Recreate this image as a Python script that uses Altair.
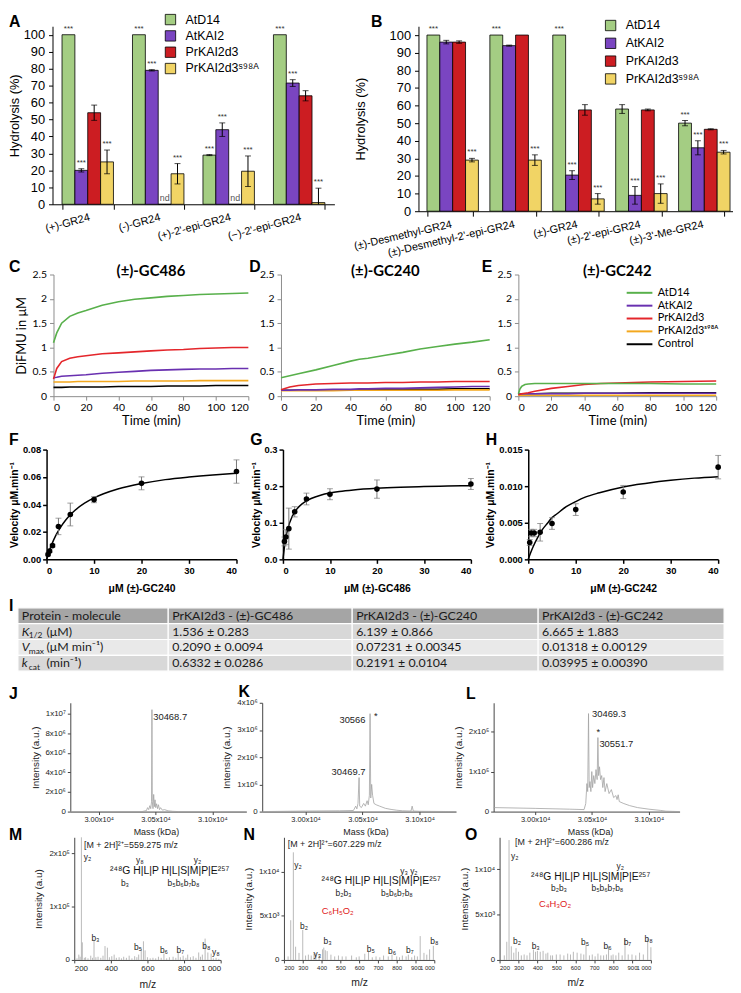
import altair as alt
import pandas as pd

SANS = "Liberation Sans, Arial, sans-serif"
CAL = "Lato, Open Sans, sans-serif"
GP = "Liberation Sans Narrow, Liberation Sans, Arial, sans-serif"

# ---------------- A / B : hydrolysis (%) ----------------
proteins = ["AtD14", "AtKAI2", "PrKAI2d3", "PrKAI2d3ˢ⁹⁸ᴬ"]
bar_colors = ["#a4cd83", "#7a45c1", "#cc1d22", "#f1d465"]

groups_a = ["(+)-GR24", "(-)-GR24", "(+)-2'-epi-GR24", "(−)-2'-epi-GR24"]
a_atd14 = [100, 100, 29, 100]
a_atkai2 = [20, 79, 44, 71.5]
a_prkai2d3 = [54, 0, 0, 64]
a_s98a = [25, 18, 19.5, 1]
a_atd14_err = [0, 0, 0.3, 0]
a_atkai2_err = [1, 0.4, 4, 2]
a_prkai2d3_err = [4.5, 0, 0, 3]
a_s98a_err = [7, 6, 9, 8.5]
a_atd14_sig = [1, 1, 1, 1]
a_atkai2_sig = [1, 1, 1, 1]
a_prkai2d3_sig = [0, 0, 0, 0]
a_s98a_sig = [1, 1, 1, 1]
a_prkai2d3_nd = [0, 1, 1, 0]

groups_b = ["(±)-Desmethyl-GR24", "(±)-Desmethyl-2'-epi-GR24", "(±)-GR24",
            "(±)-2'-epi-GR24", "(±)-3'-Me-GR24"]
b_atd14 = [100, 100, 100, 58, 50]
b_atkai2 = [96, 94, 20.5, 9, 36]
b_prkai2d3 = [96, 100, 57.5, 57.5, 46.5]
b_s98a = [29, 29, 7, 10, 33.5]
b_atd14_err = [0, 0, 0, 2.5, 1.5]
b_atkai2_err = [1, 0.3, 2.5, 5, 4]
b_prkai2d3_err = [0.7, 0, 3, 0.5, 0.3]
b_s98a_err = [1, 3, 3, 5.5, 1]
b_atd14_sig = [1, 1, 1, 0, 1]
b_atkai2_sig = [0, 0, 1, 1, 1]
b_prkai2d3_sig = [0, 0, 0, 0, 0]
b_s98a_sig = [1, 1, 1, 1, 1]
b_none = [0, 0, 0, 0, 0]

# ---------------- C / D / E : DiFMU time courses ----------------
line_names = ["AtD14", "AtKAI2", "PrKAI2d3", "PrKAI2d3ˢ⁹⁸ᴬ", "Control"]
line_colors = ["#58b04b", "#6930b0", "#e4262b", "#f3a81e", "#000000"]

c_time = [0, 2, 5, 10, 15, 20, 30, 40, 50, 60, 70, 80, 90, 100, 110, 120]
c_atd14 = [1.10, 1.30, 1.50, 1.64, 1.71, 1.76, 1.87, 1.94, 1.99, 2.02, 2.05, 2.07, 2.09, 2.10, 2.11, 2.12]
c_atkai2 = [0.38, 0.39, 0.41, 0.42, 0.43, 0.44, 0.47, 0.49, 0.51, 0.53, 0.54, 0.55, 0.56, 0.56, 0.57, 0.57]
c_prkai2d3 = [0.35, 0.57, 0.71, 0.78, 0.81, 0.83, 0.87, 0.89, 0.91, 0.93, 0.95, 0.96, 0.98, 0.99, 1.00, 1.00]
c_s98a = [0.29, 0.29, 0.29, 0.29, 0.30, 0.30, 0.30, 0.30, 0.31, 0.31, 0.31, 0.31, 0.32, 0.32, 0.32, 0.32]
c_control = [0.18, 0.18, 0.18, 0.19, 0.19, 0.19, 0.19, 0.20, 0.20, 0.20, 0.21, 0.21, 0.21, 0.22, 0.22, 0.22]

d_time = [0, 5, 10, 20, 30, 40, 45, 50, 60, 70, 80, 90, 100, 110, 120]
d_atd14 = [0.38, 0.42, 0.46, 0.54, 0.63, 0.72, 0.76, 0.78, 0.84, 0.90, 0.97, 1.02, 1.07, 1.11, 1.16]
d_atkai2 = [0.12, 0.12, 0.13, 0.13, 0.14, 0.14, 0.15, 0.15, 0.16, 0.16, 0.17, 0.18, 0.19, 0.20, 0.20]
d_prkai2d3 = [0.13, 0.19, 0.22, 0.25, 0.26, 0.27, 0.27, 0.27, 0.28, 0.28, 0.29, 0.29, 0.30, 0.30, 0.30]
d_s98a = [0.11, 0.11, 0.11, 0.11, 0.11, 0.12, 0.12, 0.12, 0.12, 0.12, 0.12, 0.12, 0.13, 0.13, 0.13]
d_control = [0.12, 0.12, 0.12, 0.13, 0.13, 0.13, 0.13, 0.13, 0.14, 0.14, 0.14, 0.14, 0.15, 0.15, 0.15]

e_time = [0, 1, 2, 4, 6, 10, 20, 30, 40, 50, 60, 80, 100, 120]
e_atd14 = [0.05, 0.15, 0.20, 0.24, 0.25, 0.26, 0.26, 0.26, 0.26, 0.26, 0.26, 0.26, 0.25, 0.25]
e_atkai2 = [0.05, 0.05, 0.05, 0.05, 0.05, 0.05, 0.05, 0.05, 0.06, 0.06, 0.06, 0.06, 0.06, 0.06]
e_prkai2d3 = [0.03, 0.04, 0.05, 0.06, 0.07, 0.10, 0.16, 0.20, 0.24, 0.26, 0.27, 0.29, 0.30, 0.31]
e_s98a = [0.02, 0.02, 0.02, 0.02, 0.02, 0.02, 0.02, 0.02, 0.02, 0.02, 0.02, 0.02, 0.02, 0.02]
e_control = [0.05, 0.05, 0.05, 0.05, 0.05, 0.05, 0.06, 0.06, 0.06, 0.06, 0.06, 0.07, 0.07, 0.07]

# ---------------- F / G / H : velocity vs substrate ----------------
conc = [0.3125, 0.625, 1.25, 2.5, 5, 10, 20, 40]
f_vel = [0.0036, 0.006, 0.010, 0.024, 0.0327, 0.0435, 0.0554, 0.064]
f_err = [0.001, 0.001, 0.001, 0.006, 0.0083, 0.0022, 0.0047, 0.0085]
g_vel = [0.049, 0.061, 0.084, 0.130, 0.165, 0.178, 0.192, 0.206]
g_err = [0.012, 0.02, 0.056, 0.014, 0.016, 0.015, 0.025, 0.015]
h_vel = [0.0023, 0.0036, 0.0036, 0.0037, 0.0049, 0.0068, 0.0092, 0.0126]
h_err = [0.0004, 0.0005, 0.0005, 0.0012, 0.0008, 0.0008, 0.0009, 0.0016]
fit_x = [0, 0.5, 1, 2, 3, 4, 5, 6, 8, 10, 12, 15, 20, 25, 30, 35, 40]
f_fit = [0, 0.0055, 0.0101, 0.0178, 0.0237, 0.0285, 0.0325, 0.0358, 0.0409, 0.0448, 0.0478, 0.0513, 0.0553, 0.0581, 0.0600, 0.0615, 0.0627]
g_fit = [0, 0.0513, 0.0824, 0.1182, 0.1382, 0.1510, 0.1599, 0.1664, 0.1753, 0.1812, 0.1853, 0.1896, 0.1941, 0.1969, 0.1988, 0.2002, 0.2013]
h_fit = [0, 0.0009, 0.0017, 0.0030, 0.0041, 0.0049, 0.0057, 0.0062, 0.0072, 0.0079, 0.0085, 0.0091, 0.0099, 0.0104, 0.0108, 0.0111, 0.0113]

# ---------------- I : table ----------------
tbl_rows = [0, 1, 2, 3]
tbl_fill = ["#a5a5a5", "#d8d8d8", "#e9e9e9", "#d8d8d8"]
col1_main = ["Protein - molecule", "K", "V", "k"]
col1_sub = ["", "1/2", "max", "cat"]
col1_rest = ["", "(μM)", "(μM min⁻¹)", "(min⁻¹)"]
col2 = ["PrKAI2d3 - (±)-GC486", "1.536 ± 0.283", "0.2090 ± 0.0094", "0.6332 ± 0.0286"]
col3 = ["PrKAI2d3 - (±)-GC240", "6.139 ± 0.866", "0.07231 ± 0.00345", "0.2191 ± 0.0104"]
col4 = ["PrKAI2d3 - (±)-GC242", "6.665 ± 1.883", "0.01318 ± 0.00129", "0.03995 ± 0.00390"]

# ---------------- J / K / L : intact mass spectra ----------------
j_mass = [29750, 30380, 30420, 30430, 30440, 30450, 30458, 30465, 30468.7, 30472, 30478, 30484, 30490,
          30496, 30502, 30510, 30518, 30526, 30535, 30545, 30560, 30580, 30610, 30650, 30700, 31300]
j_int = [0, 0, 1e5, 4e5, 2e5, 6e5, 3e5, 1e6, 1.04e7, 1e6, 3e5, 1.75e6, 5e5,
         1.2e6, 4e5, 8e5, 3e5, 7e5, 2e5, 4e5, 1.5e5, 2e5, 8e4, 3e4, 0, 0]
k_mass = [29620, 30000, 30300, 30420, 30440, 30450, 30460, 30469.7, 30475, 30490, 30510, 30525, 30540,
          30550, 30560, 30566, 30572, 30580, 30588, 30600, 30620, 30650, 30700, 30750, 30800, 30850,
          30925, 30935, 30945, 31000, 31320]
k_int = [0, 2e4, 3e4, 4e4, 2e5, 1e5, 3e5, 1.25e6, 2e5, 1.5e5, 3e5, 2e5, 4e5,
         2.5e5, 6e5, 3.6e6, 5e5, 1e6, 6e5, 3e5, 2.5e5, 2e5, 1.2e5, 8e4, 5e4, 3e4,
         2e4, 2e5, 2e4, 1e4, 0]
l_mass = [29635, 30000, 30300, 30430, 30445, 30455, 30462, 30469.3, 30475, 30482, 30490, 30498, 30505,
          30515, 30525, 30535, 30545, 30551.7, 30558, 30566, 30575, 30585, 30595, 30605, 30615, 30630,
          30650, 30670, 30690, 30710, 30720, 30730, 30740, 30780, 30830, 30900, 31000, 31100, 31150, 31270]
l_int = [1e4, 8e3, 6e3, 5e3, 2e4, 7e4, 5e4, 2.45e5, 6e4, 7.5e4, 5e4, 1e5, 6e4,
         9e4, 7e4, 1.05e5, 8e4, 1.85e5, 9e4, 1.12e5, 8e4, 9e4, 6e4, 8.5e4, 5e4, 7e4,
         4.5e4, 5.5e4, 3.5e4, 4e4, 3e4, 4.2e4, 2.5e4, 2e4, 1.5e4, 1e4, 6e3, 3e3, 1e3, 0]
j_ann_m = [30480]
j_ann_i = [9.6e6]
j_ann_t = ["30468.7"]
k_annl_m = [30600]
k_annl_i = [3.5e6]
k_annl_t = ["*"]
k_annr_m = [30526, 30526]
k_annr_i = [3.38e6, 1.45e6]
k_annr_t = ["30566", "30469.7"]
l_ann_m = [30500, 30540, 30565]
l_ann_i = [2.43e5, 2.0e5, 1.68e5]
l_ann_t = ["30469.3", "*", "30551.7"]

# ---------------- M / N / O : MS/MS spectra ----------------
m_mz = [215, 225, 232, 239, 244, 255, 262, 275, 290, 300, 308, 318, 330, 345, 357, 368, 381, 392, 405, 418,
        430, 445, 458, 470, 485, 500, 515, 530, 542, 552, 566, 578, 587, 600, 615, 630, 645, 660, 675, 690,
        705, 720, 740, 755, 768, 780, 795, 810, 820, 835, 850, 865, 880, 890, 900, 915, 930, 948, 960, 975, 990]
m_int = [3e3, 1e4, 6e3, 2.3e5, 3.3e4, 4e3, 5e3, 3e3, 8e3, 4e3, 3.7e4, 5e3, 6e3, 4e3, 8e3, 2.6e4, 2.3e4, 5e3, 7e3, 1e4,
         4e3, 5e3, 3e3, 6e3, 4e3, 8e3, 3e3, 7e3, 5e3, 1e4, 2.2e4, 3.5e4, 1.8e4, 5e3, 3e3, 4e3, 3e3, 6e3, 4e3, 1.2e4,
         3e3, 5e3, 6e3, 4e3, 1.3e4, 5e3, 8e3, 4e3, 1e4, 5e3, 7e3, 4e3, 1.4e4, 6e3, 1e4, 4e4, 1.4e4, 1.2e4, 3e3, 4e3, 2e3]
n_mz = [222, 236, 250, 262, 280, 300, 315, 330, 345, 360, 370, 387, 405, 412, 420, 430, 450, 470, 490, 510,
        530, 560, 585, 600, 630, 650, 670, 690, 710, 730, 755, 775, 800, 815, 830, 850, 862, 880, 895, 910,
        925, 945, 960, 975, 995]
n_int = [4e2, 4.5e3, 1.22e4, 1.5e3, 8e2, 3.4e3, 5e2, 6e2, 5e2, 7e2, 8e2, 5e2, 1.2e3, 1.4e3, 1.1e3, 1e3, 6e2, 4e2, 5e2, 4e2,
         4e2, 5e2, 3e2, 4e2, 7e2, 9e2, 3e2, 4e2, 3e2, 5e2, 4e2, 6e2, 4e2, 3e2, 5e2, 4e2, 6e2, 3e2, 5e2, 4e2,
         2.7e3, 8e2, 6e2, 1.2e3, 1.6e3]
o_mz = [225, 238, 250, 262, 275, 287, 300, 315, 330, 345, 360, 379, 390, 400, 415, 430, 445, 455, 470, 480,
        500, 520, 540, 560, 575, 590, 610, 630, 645, 657, 675, 690, 705, 720, 735, 750, 765, 776, 790, 800,
        815, 830, 848, 863, 880, 900, 920, 940, 960, 983, 1000]
o_int = [5e2, 2e3, 1.32e4, 1.5e3, 8e2, 1.3e3, 9e2, 5e2, 6e2, 5e2, 8e2, 1.15e3, 9e2, 1e3, 9e2, 1e3, 7e2, 8e2, 5e2, 5e2,
         6e2, 6e2, 5e2, 7e2, 6e2, 9e2, 8e2, 7e2, 6e2, 1.7e3, 5e2, 6e2, 4e2, 7e2, 5e2, 5e2, 6e2, 1.5e3, 5e2, 6e2,
         5e2, 8e2, 5e2, 2.4e3, 6e2, 6e2, 5e2, 8e2, 6e2, 2.4e3, 1.4e3]

m_lab_mz = [272, 316, 548, 690, 780, 922, 974]
m_lab_i = [1.93e5, 4.1e4, 2.4e4, 1.9e4, 1.8e4, 2.6e4, 1.5e4]
m_lab_t = ["y₂", "b₃", "b₅", "b₆", "b₇", "b₈", "y₈"]
n_lab_mz = [275, 307, 378, 432, 662, 775, 870, 1000]
n_lab_i = [1.08e4, 3.8e3, 7e2, 2.2e3, 1.2e3, 1.0e3, 1.1e3, 2.1e3]
n_lab_t = ["y₂", "b₂", "y₃", "b₃", "b₅", "b₆", "b₇", "b₈"]
o_lab_mz = [280, 292, 391, 652, 771, 876, 988]
o_lab_i = [1.14e4, 2.05e3, 1.5e3, 2.0e3, 1.5e3, 2.0e3, 2.25e3]
o_lab_t = ["y₂", "b₂", "b₃", "b₅", "b₆", "b₇", "b₈"]

seq_text = "²⁴⁸G H|L|P H|L|S|M|P|E²⁵⁷"
m_frag_mz = [721, 559, 873, 477, 797]
m_frag_i = [1.67e5, 1.88e5, 1.88e5, 1.45e5, 1.45e5]
m_frag_t = [seq_text, "y₈", "y₂", "b₃", "b₅b₆b₇b₈"]
n_frag_mz = [717, 865, 517, 801]
n_frag_i = [8.9e3, 1.01e4, 7.6e3, 7.6e3]
n_frag_t = [seq_text, "y₃ y₂", "b₂b₃", "b₅b₆b₇b₈"]
o_frag_mz = [681, 838, 514, 770]
o_frag_i = [9.1e3, 1.03e4, 7.9e3, 7.9e3]
o_frag_t = [seq_text, "y₂", "b₂b₃", "b₅b₆b₇b₈"]
prec_mz = [510, 470, 530]
prec_i = [2.16e5, 1.31e4, 1.30e4]
prec_t = ["[M + 2H]²⁺=559.275 m/z", "[M + 2H]²⁺=607.229 m/z", "[M + 2H]²⁺=600.286 m/z"]
adduct_mz = [486, 493]
adduct_i = [5.5e3, 6.2e3]
adduct_t = ["C₆H₅O₂", "C₄H₃O₂"]


# ================= helpers =================
def one():
    return pd.DataFrame({"k": [0]})


def lead(w, top, bottom):
    # leading spacer of each row: fixes the row origin and its vertical extent
    r = alt.Chart(one()).mark_rule(opacity=0).encode(
        x=alt.value(0), y=alt.value(-top), y2=alt.value(bottom))
    return r.properties(width=w, height=1)


def letter(ch, dx, dy):
    return alt.Chart(one()).mark_text(text=ch, font=SANS, fontSize=16, fontWeight="bold",
                                      align="left", baseline="top", color="black").encode(
        x=alt.value(dx), y=alt.value(dy))


def label_px(txt, dx, dy, size=9):
    return alt.Chart(one()).mark_text(text=txt, font=SANS, fontSize=size, align="center",
                                      baseline="middle", color="#222").encode(
        x=alt.value(dx), y=alt.value(dy))


def spacer(w):
    return alt.Chart(one()).mark_rule(opacity=0).encode(
        x=alt.value(0), y=alt.value(0), y2=alt.value(1)).properties(width=w, height=1)


def bar_panel(groups, vals, errs, sigs, nds, width, height, leg_x, leg_y, leg_pad,
              title_pad, angle, extras):
    recs = []
    for p, v_l, e_l, s_l, n_l in zip(proteins, vals, errs, sigs, nds):
        for g, v, e, s, n in zip(groups, v_l, e_l, s_l, n_l):
            recs.append({"group": g, "protein": p, "value": v, "err": e,
                         "lo": max(0.0, v - e), "hi": v + e, "sig": s, "nd": n})
    df = pd.DataFrame(recs)
    xenc = alt.X("group:N", sort=groups, title=None,
                 scale=alt.Scale(paddingInner=0.27, paddingOuter=0.135),
                 axis=alt.Axis(labelAngle=angle, labelAlign="right", labelBaseline="top",
                               labelFont=SANS, labelFontSize=11, labelColor="black",
                               labelOverlap=False, labelPadding=2, labelLimit=400,
                               tickBand="extent", tickColor="black", tickSize=5,
                               domainColor="black"))
    xoff = alt.XOffset("protein:N", sort=proteins,
                       scale=alt.Scale(paddingInner=0, paddingOuter=0))
    yax = alt.Axis(values=list(range(0, 101, 10)), grid=False, title="Hydrolysis (%)",
                   titleFont=SANS, titleFontSize=13, titleFontWeight="normal",
                   titleColor="black", titlePadding=title_pad, labelFont=SANS,
                   labelFontSize=13, labelColor="black", domainColor="black",
                   tickColor="black", tickSize=4, labelPadding=4)
    ysc = alt.Scale(domain=[0, 105], nice=False)

    def Y(f):
        return alt.Y(f + ":Q", scale=ysc, axis=yax)

    base = alt.Chart(df).encode(x=xenc, xOffset=xoff)
    bars = base.mark_bar(stroke="black", strokeWidth=0.8).encode(
        y=Y("value"),
        color=alt.Color("protein:N", sort=proteins,
                        scale=alt.Scale(domain=proteins, range=bar_colors),
                        legend=alt.Legend(orient="none", legendX=leg_x, legendY=leg_y,
                                          title=None, symbolType="square", symbolSize=110,
                                          symbolStrokeColor="black", symbolStrokeWidth=0.8,
                                          labelFont=SANS, labelFontSize=12.5,
                                          labelColor="black", rowPadding=leg_pad,
                                          labelOffset=9, padding=0, labelLimit=300)))
    eb = base.transform_filter("datum.err > 0")
    rule = eb.mark_rule(color="black", strokeWidth=1).encode(y=Y("lo"), y2="hi:Q")
    cap1 = eb.mark_tick(color="black", thickness=1, size=6, orient="horizontal").encode(y=Y("hi"))
    cap2 = eb.transform_filter("datum.lo > 0").mark_tick(
        color="black", thickness=1, size=6, orient="horizontal").encode(y=Y("lo"))
    stars = base.transform_filter("datum.sig == 1").mark_text(
        text="***", font=SANS, fontSize=8, color="#333", baseline="bottom", dy=-2).encode(y=Y("hi"))
    ndt = base.transform_filter("datum.nd == 1").mark_text(
        text="nd", font=SANS, fontSize=9, color="#555", baseline="bottom", dy=-1).encode(y=Y("value"))
    return alt.layer(bars, rule, cap1, cap2, stars, ndt, *extras).properties(
        width=width, height=height)


def time_panel(times, series, width, height, title, ytitle, legend, extras):
    order = [4, 3, 1, 2, 0]
    recs = []
    for idx in order:
        for t, v in zip(times, series[idx]):
            recs.append({"t": t, "v": v, "s": line_names[idx]})
    df = pd.DataFrame(recs)
    xa = alt.Axis(values=list(range(0, 121, 20)), title="Time (min)", grid=False,
                  labelFont=CAL, labelFontSize=10.5, labelColor="black", titleFont=CAL,
                  titleFontSize=13, titleFontWeight="normal", titleColor="black",
                  domainColor="#8c8c8c", tickColor="#8c8c8c", tickSize=4,
                  labelPadding=3, titlePadding=1)
    ya = alt.Axis(values=[0, 0.5, 1, 1.5, 2, 2.5], labelExpr="'' + datum.value",
                  title=ytitle, grid=False, labelFont=CAL, labelFontSize=10.5,
                  labelColor="black", titleFont=CAL, titleFontSize=13,
                  titleFontWeight="normal", titleColor="black", domainColor="#8c8c8c",
                  tickColor="#8c8c8c", tickSize=4, labelPadding=3, titlePadding=4)
    if legend:
        leg = alt.Legend(orient="none", legendX=115, legendY=11, title=None,
                         symbolType="M-2,0H2", symbolStrokeWidth=2, symbolSize=169,
                         labelFont=CAL, labelFontSize=11, labelColor="black",
                         rowPadding=0, labelOffset=11, padding=0)
    else:
        leg = None
    lines = alt.Chart(df).mark_line(strokeWidth=1.6).encode(
        x=alt.X("t:Q", scale=alt.Scale(domain=[0, 120], nice=False), axis=xa),
        y=alt.Y("v:Q", scale=alt.Scale(domain=[0, 2.5], nice=False), axis=ya),
        color=alt.Color("s:N", sort=line_names,
                        scale=alt.Scale(domain=line_names, range=line_colors), legend=leg),
        detail="s:N")
    ttl = alt.Chart(one()).mark_text(text=title, font=CAL, fontSize=15, fontWeight="bold",
                                     align="center", baseline="middle", color="black").encode(
        x=alt.value(width / 2), y=alt.value(-3))
    return alt.layer(lines, ttl, *extras).properties(width=width, height=height)


def mm_panel(yv, ye, fit, ymax, yvals, yfmt, xtitle, width, height, extras):
    pts = pd.DataFrame({"x": conc, "y": yv,
                        "lo": [a - b for a, b in zip(yv, ye)],
                        "hi": [a + b for a, b in zip(yv, ye)]})
    cur = pd.DataFrame({"x": fit_x, "y": fit})
    xa = alt.Axis(values=[0, 10, 20, 30, 40], title=xtitle, grid=False, labelFont=GP,
                  labelFontWeight="bold", labelFontSize=9.5, labelColor="black",
                  titleFont=GP, titleFontWeight="bold", titleFontSize=10.5, titleColor="black",
                  domainColor="black", domainWidth=1.5, tickColor="black", tickWidth=1.5,
                  tickSize=4, titlePadding=9, labelPadding=2)
    ya = alt.Axis(values=yvals, format=yfmt, title="Velocity μM.min⁻¹", grid=False,
                  labelFont=GP, labelFontWeight="bold", labelFontSize=9.5, labelColor="black",
                  titleFont=GP, titleFontWeight="bold", titleFontSize=10.5, titleColor="black",
                  domainColor="black", domainWidth=1.5, tickColor="black", tickWidth=1.5,
                  tickSize=4, titlePadding=3, labelPadding=2)
    xs = alt.Scale(domain=[0, 40], nice=False)
    ys = alt.Scale(domain=[0, ymax], nice=False)

    def X(f):
        return alt.X(f + ":Q", scale=xs, axis=xa)

    def Y(f):
        return alt.Y(f + ":Q", scale=ys, axis=ya)

    curve = alt.Chart(cur).mark_line(color="black", strokeWidth=1.5,
                                     interpolate="monotone").encode(x=X("x"), y=Y("y"))
    err = alt.Chart(pts).mark_rule(color="#777", strokeWidth=1).encode(
        x=X("x"), y=Y("lo"), y2="hi:Q")
    cap1 = alt.Chart(pts).mark_tick(color="#777", thickness=1, size=6,
                                    orient="horizontal").encode(x=X("x"), y=Y("hi"))
    cap2 = alt.Chart(pts).mark_tick(color="#777", thickness=1, size=6,
                                    orient="horizontal").encode(x=X("x"), y=Y("lo"))
    dots = alt.Chart(pts).mark_circle(color="black", size=32, opacity=1).encode(
        x=X("x"), y=Y("y"))
    return alt.layer(curve, err, cap1, cap2, dots, *extras).properties(
        width=width, height=height)


def ms_axes(xdom, xvals, xlabexpr, xtitle, ymax, yvals, ylabexpr, ytitle, xfs=8, xpad=2):
    xa = alt.Axis(values=xvals, labelExpr=xlabexpr, title=xtitle, grid=False, labelFont=SANS,
                  labelFontSize=xfs, labelColor="#222", titleFont=SANS, titleFontSize=10.5,
                  titleFontWeight="normal", titleColor="#222", domainColor="#444",
                  tickColor="#444", tickSize=3, labelPadding=xpad, titlePadding=7,
                  labelOverlap=False)
    ya = alt.Axis(values=yvals, labelExpr=ylabexpr, title=ytitle, grid=False, labelFont=SANS,
                  labelFontSize=8, labelColor="#222", titleFont=SANS, titleFontSize=10,
                  titleFontWeight="normal", titleColor="#222", domainColor="#444",
                  tickColor="#444", tickSize=3, labelPadding=2, titlePadding=5)
    xs = alt.Scale(domain=xdom, nice=False, zero=False)
    ys = alt.Scale(domain=[0, ymax], nice=False)

    def X(f):
        return alt.X(f + ":Q", scale=xs, axis=xa)

    def Y(f):
        return alt.Y(f + ":Q", scale=ys, axis=ya)
    return X, Y


def txt(xs, ys, ts, X, Y, **kw):
    df = pd.DataFrame({"x": xs, "y": ys, "t": ts})
    return alt.Chart(df).mark_text(**kw).encode(x=X("x"), y=Y("y"), text="t:N")


def intact_panel(mass, inten, xdom, ymax, yvals, ylab, width, height, anns, extras):
    X, Y = ms_axes(xdom, [30000, 30500, 31000],
                   "format(datum.value/10000,'.2f') + 'x10⁴'", None,
                   ymax, yvals, ylab, "Intensity (a.u.)", 7.5, 1)
    df = pd.DataFrame({"x": mass, "y": inten})
    line = alt.Chart(df).mark_line(color="#a3a3a3", strokeWidth=0.8).encode(x=X("x"), y=Y("y"))
    layers = [line]
    for (xs, ys, ts, al) in anns:
        layers.append(txt(xs, ys, ts, X, Y, align=al, baseline="middle", font=SANS,
                          fontSize=9.5, color="#222"))
    return alt.layer(*layers, *extras).properties(width=width, height=height)


def msms_panel(mz, inten, ymax, yvals, ylab, ytitle, xvals, xfs, width, height,
               labs, frags, prec, adduct, extras):
    X, Y = ms_axes([200, 1000], xvals, "datum.value == 1000 ? '1 000' : datum.label", "m/z",
                   ymax, yvals, ylab, ytitle, xfs)
    df = pd.DataFrame({"x": mz, "y": inten})
    rules = alt.Chart(df).mark_rule(color="#a8a8a8", strokeWidth=0.8).encode(
        x=X("x"), y=Y("y"), y2=alt.datum(0))
    layers = [rules,
              txt(labs[0], labs[1], labs[2], X, Y, align="center", baseline="middle",
                  font=SANS, fontSize=8.5, color="#222"),
              txt(frags[0][:1], frags[1][:1], frags[2][:1], X, Y, align="center",
                  baseline="middle", font=SANS, fontSize=10.5, color="#111"),
              txt(frags[0][1:], frags[1][1:], frags[2][1:], X, Y, align="center",
                  baseline="middle", font=SANS, fontSize=8.5, color="#222"),
              txt(prec[0], prec[1], prec[2], X, Y, align="center", baseline="middle",
                  font=SANS, fontSize=9, color="#222")]
    if adduct is not None:
        layers.append(txt(adduct[0], adduct[1], adduct[2], X, Y, align="center",
                          baseline="middle", font=SANS, fontSize=9.5, color="#e02020"))
    return alt.layer(*layers, *extras).properties(width=width, height=height)


def table_col(width, height, text_layers, extras=()):
    df = pd.DataFrame({"row": tbl_rows})
    ysc = alt.Scale(domain=tbl_rows, paddingInner=0, paddingOuter=0)
    bg = alt.Chart(df).mark_rect(stroke="white", strokeWidth=1.2).encode(
        x=alt.value(0), x2=alt.value(width),
        y=alt.Y("row:O", axis=None, scale=ysc),
        fill=alt.Fill("row:O", scale=alt.Scale(domain=tbl_rows, range=tbl_fill), legend=None))
    layers = [bg]
    for rows, texts, dx, kw in text_layers:
        d = pd.DataFrame({"row": rows, "t": texts})
        layers.append(alt.Chart(d).mark_text(align="left", baseline="middle", font=CAL,
                                             color="#1a1a1a", **kw).encode(
            x=alt.value(dx), y=alt.Y("row:O", axis=None, scale=ysc), text="t:N"))
    return alt.layer(*layers, *extras).properties(width=width, height=height)


# ================= build panels =================
pA = bar_panel(groups_a, [a_atd14, a_atkai2, a_prkai2d3, a_s98a],
               [a_atd14_err, a_atkai2_err, a_prkai2d3_err, a_s98a_err],
               [a_atd14_sig, a_atkai2_sig, a_prkai2d3_sig, a_s98a_sig],
               [[0, 0, 0, 0], [0, 0, 0, 0], a_prkai2d3_nd, [0, 0, 0, 0]],
               285, 180, 113, -13, 1.5, 2, 345,
               [letter("A", -44, -12)])
pB = bar_panel(groups_b, [b_atd14, b_atkai2, b_prkai2d3, b_s98a],
               [b_atd14_err, b_atkai2_err, b_prkai2d3_err, b_s98a_err],
               [b_atd14_sig, b_atkai2_sig, b_prkai2d3_sig, b_s98a_sig],
               [b_none, b_none, b_none, b_none],
               318, 187, 188, -7, 3, 22, 347,
               [letter("B", -48, -12)])

pC = time_panel(c_time, [c_atd14, c_atkai2, c_prkai2d3, c_s98a, c_control], 197, 123,
                "(±)-GC486", "DiFMU in μM", False, [letter("C", -45, -16)])
pD = time_panel(d_time, [d_atd14, d_atkai2, d_prkai2d3, d_s98a, d_control], 211, 123,
                "(±)-GC240", None, False, [letter("D", -32, -16)])
pE = time_panel(e_time, [e_atd14, e_atkai2, e_prkai2d3, e_s98a, e_control], 200, 123,
                "(±)-GC242", None, True, [letter("E", -37, -16)])

pF = mm_panel(f_vel, f_err, f_fit, 0.08, [0, 0.02, 0.04, 0.06, 0.08], ".2f",
              "μM (±)-GC240", 192, 111, [letter("F", -38, -18)])
pG = mm_panel(g_vel, g_err, g_fit, 0.3, [0, 0.1, 0.2, 0.3], ".1f",
              "μM (±)-GC486", 190, 111, [letter("G", -33, -18)])
pH = mm_panel(h_vel, h_err, h_fit, 0.015, [0, 0.005, 0.01, 0.015], ".3f",
              "μM (±)-GC242", 192, 111, [letter("H", -43, -18)])

t1 = table_col(152, 64, [
    ([0], col1_main[:1], 4, {"fontSize": 12.5}),
    ([1, 2, 3], col1_main[1:], 4, {"fontSize": 12.5, "fontStyle": "italic"}),
    ([1, 2, 3], col1_sub[1:], 11, {"fontSize": 8.5, "dy": 4}),
    ([1, 2, 3], col1_rest[1:], 29, {"fontSize": 12.5}),
], [letter("I", -9, -10)])
t2 = table_col(186, 64, [(tbl_rows, col2, 4, {"fontSize": 12.5})])
t3 = table_col(188, 64, [(tbl_rows, col3, 4, {"fontSize": 12.5})])
t4 = table_col(188, 64, [(tbl_rows, col4, 4, {"fontSize": 12.5})])

lab6 = "datum.value == 0 ? '0' : format(datum.value/1e6,'d') + 'x10⁶'"
pJ = intact_panel(j_mass, j_int, [29750, 31300], 1.11e7,
                  [0, 2e6, 4e6, 6e6, 8e6, 1e7],
                  "datum.value == 0 ? '0' : datum.value >= 1e7 ? '1x10⁷' : format(datum.value/1e6,'d') + 'x10⁶'",
                  178, 110, [(j_ann_m, j_ann_i, j_ann_t, "left")],
                  [letter("J", -62, -17)])
pK = intact_panel(k_mass, k_int, [29620, 31320], 4.0e6, [0, 1e6, 2e6, 3e6, 4e6], lab6,
                  196, 110, [(k_annl_m, k_annl_i, k_annl_t, "left"),
                             (k_annr_m, k_annr_i, k_annr_t, "right")],
                  [letter("K", -24, -19)])
pL = intact_panel(l_mass, l_int, [29635, 31270], 2.72e5, [0, 1e5, 2e5],
                  "datum.value == 0 ? '0' : format(datum.value/1e5,'d') + 'x10⁵'",
                  188, 110, [(l_ann_m, l_ann_i, l_ann_t, "left")],
                  [letter("L", -28, -17)])

lab34 = "datum.value == 0 ? '0' : datum.value >= 1e4 ? '1x10⁴' : '5x10³'"
pM = msms_panel(m_mz, m_int, 2.3e5, [0, 1e5, 2e5],
                "datum.value == 0 ? '0' : format(datum.value/1e5,'d') + 'x10⁵'",
                "Intensity (a.u)", [200, 400, 600, 800, 1000], 8, 148, 124,
                (m_lab_mz, m_lab_i, m_lab_t), (m_frag_mz, m_frag_i, m_frag_t),
                (prec_mz[:1], prec_i[:1], prec_t[:1]), None,
                [letter("M", -66, -10), label_px("Mass (kDa)", 83, -5)])
pN = msms_panel(n_mz, n_int, 1.39e4, [0, 5000, 10000], lab34, "Intensity (a.u.)",
                list(range(200, 1001, 100)), 6, 152, 124,
                (n_lab_mz, n_lab_i, n_lab_t), (n_frag_mz, n_frag_i, n_frag_t),
                (prec_mz[1:2], prec_i[1:2], prec_t[1:2]),
                (adduct_mz[:1], adduct_i[:1], adduct_t[:1]),
                [letter("N", -41, -10), label_px("Mass (kDa)", 83, -5)])
pO = msms_panel(o_mz, o_int, 1.35e4, [0, 5000, 10000], lab34, "Intensity (a.u.)",
                list(range(200, 1001, 100)), 6, 153, 124,
                (o_lab_mz, o_lab_i, o_lab_t), (o_frag_mz, o_frag_i, o_frag_t),
                (prec_mz[2:], prec_i[2:], prec_t[2:]),
                (adduct_mz[1:], adduct_i[1:], adduct_t[1:]),
                [letter("O", -35, -10), label_px("Mass (kDa)", 92, -5)])


def row(*charts):
    return alt.hconcat(*charts, spacing=0, bounds="flush").resolve_scale(
        color="independent", fill="independent")


row1 = row(lead(44, 12, 234), pA, spacer(85), pB)
row2 = row(lead(45, 16, 158), pC, spacer(33), pD, spacer(29), pE)
row3 = row(lead(38, 19, 149), pF, spacer(47), pG, spacer(58), pH)
row4 = row(lead(9, 11, 77), t1, t2, t3, t4)
row5 = row(lead(62, 18, 124), pJ, spacer(16), pK, spacer(38), pL)
row6 = row(lead(66, 12, 150), pM, spacer(64), pN, spacer(66), pO)

chart = alt.vconcat(row1, row2, row3, row4, row5, row6, spacing=0).resolve_scale(
    color="independent", fill="independent").properties(padding=0).configure_view(stroke=None)

chart.save("out.html", embed_options={"renderer": "svg", "actions": False})
